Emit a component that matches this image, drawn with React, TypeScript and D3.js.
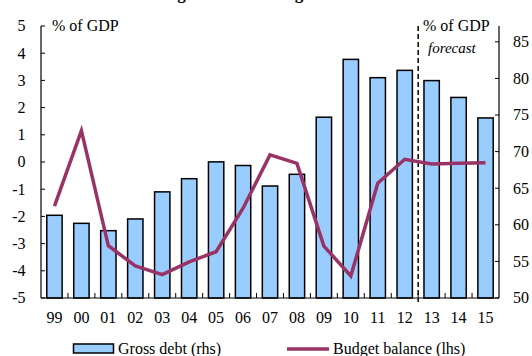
import React from "react";
import * as d3 from "d3";

const categories = ["99","00","01","02","03","04","05","06","07","08","09","10","11","12","13","14","15"];
const grossDebt = [61.3, 60.2, 59.2, 60.8, 64.5, 66.3, 68.6, 68.1, 65.3, 66.9, 74.7, 82.6, 80.1, 81.1, 79.7, 77.4, 74.6];
const budgetBalance = [-1.62, 1.15, -3.08, -3.82, -4.14, -3.67, -3.3, -1.7, 0.26, -0.05, -3.09, -4.19, -0.78, 0.1, -0.07, -0.05, -0.03];
const leftTicks = [-5, -4, -3, -2, -1, 0, 1, 2, 3, 4, 5];
const rightTicks = [50, 55, 60, 65, 70, 75, 80, 85];
const forecastStart = "13";

const W = 532, H = 356;
const L = 41, R = 499, T = 26, B = 298;
const FONT = "Liberation Serif, Times New Roman, serif";
const BAR_FILL = "#99CCFF";
const LINE_COLOR = "#993366";

export default function App() {
  const x = d3.scaleBand<string>().domain(categories).range([L, R]).padding(0);
  const yL = d3.scaleLinear().domain([-5, 5]).range([B, T]);
  const yR = d3.scaleLinear().domain([50, 87.16]).range([B, T]);
  const bw = x.bandwidth() * 0.57;
  const cx = (c: string) => (x(c) as number) + x.bandwidth() / 2;
  const line = d3.line<number>().x((_, i) => cx(categories[i])).y((v) => yL(v));
  const fx = x(forecastStart) as number;

  return (
    <svg width={W} height={H} style={{ position: "absolute", left: 0, top: 0, fontFamily: FONT }}>
      <rect x={0} y={0} width={W} height={H} fill="#fff" />
      <text x={147} y={-1.5} fontSize={17} fontWeight="bold">Budget balance and gross debt</text>

      {/* bars */}
      {grossDebt.map((v, i) => (
        <rect key={i} x={cx(categories[i]) - bw / 2} y={yR(v)} width={bw} height={B - yR(v)}
          fill={BAR_FILL} stroke="#000" strokeWidth={1.5} />
      ))}

      {/* axes */}
      <line x1={L} x2={L} y1={T} y2={B} stroke="#000" strokeWidth={1.2} />
      <line x1={R} x2={R} y1={T} y2={B} stroke="#000" strokeWidth={1.2} />
      <line x1={L} x2={R} y1={B} y2={B} stroke="#000" strokeWidth={1.2} />

      {leftTicks.map((t) => (
        <g key={"l" + t}>
          <line x1={L} x2={L + 4} y1={yL(t)} y2={yL(t)} stroke="#000" strokeWidth={1} />
          <text x={25.5} y={yL(t)} dy="0.34em" textAnchor="end" fontSize={16}>{t}</text>
        </g>
      ))}
      {rightTicks.map((t) => (
        <g key={"r" + t}>
          <line x1={R - 4} x2={R} y1={yR(t)} y2={yR(t)} stroke="#000" strokeWidth={1} />
          <text x={513} y={yR(t)} dy="0.34em" textAnchor="start" fontSize={16}>{t}</text>
        </g>
      ))}
      {categories.slice(1).map((c) => (
        <line key={"bt" + c} x1={x(c) as number} x2={x(c) as number} y1={B} y2={B - 5} stroke="#000" strokeWidth={1} />
      ))}
      {categories.map((c) => (
        <text key={"bl" + c} x={cx(c)} y={323} textAnchor="middle" fontSize={16}>{c}</text>
      ))}

      {/* forecast divider */}
      <line x1={fx} x2={fx} y1={T} y2={302} stroke="#000" strokeWidth={1.5} strokeDasharray="5,3" />

      {/* budget balance line */}
      <path d={line(budgetBalance) || ""} fill="none" stroke={LINE_COLOR} strokeWidth={3.5} strokeLinejoin="miter" />

      {/* unit labels */}
      <text x={52} y={31} fontSize={16}>% of GDP</text>
      <text x={423} y={31} fontSize={16}>% of GDP</text>
      <text x={428} y={53} fontSize={15} fontStyle="italic">forecast</text>

      {/* legend */}
      <rect x={73.5} y={344} width={40} height={9} fill={BAR_FILL} stroke="#000" strokeWidth={1.5} />
      <text x={118} y={354} fontSize={16}>Gross debt (rhs)</text>
      <line x1={287} x2={329} y1={349} y2={349} stroke={LINE_COLOR} strokeWidth={3.5} />
      <text x={333} y={354} fontSize={16}>Budget balance (lhs)</text>
    </svg>
  );
}
